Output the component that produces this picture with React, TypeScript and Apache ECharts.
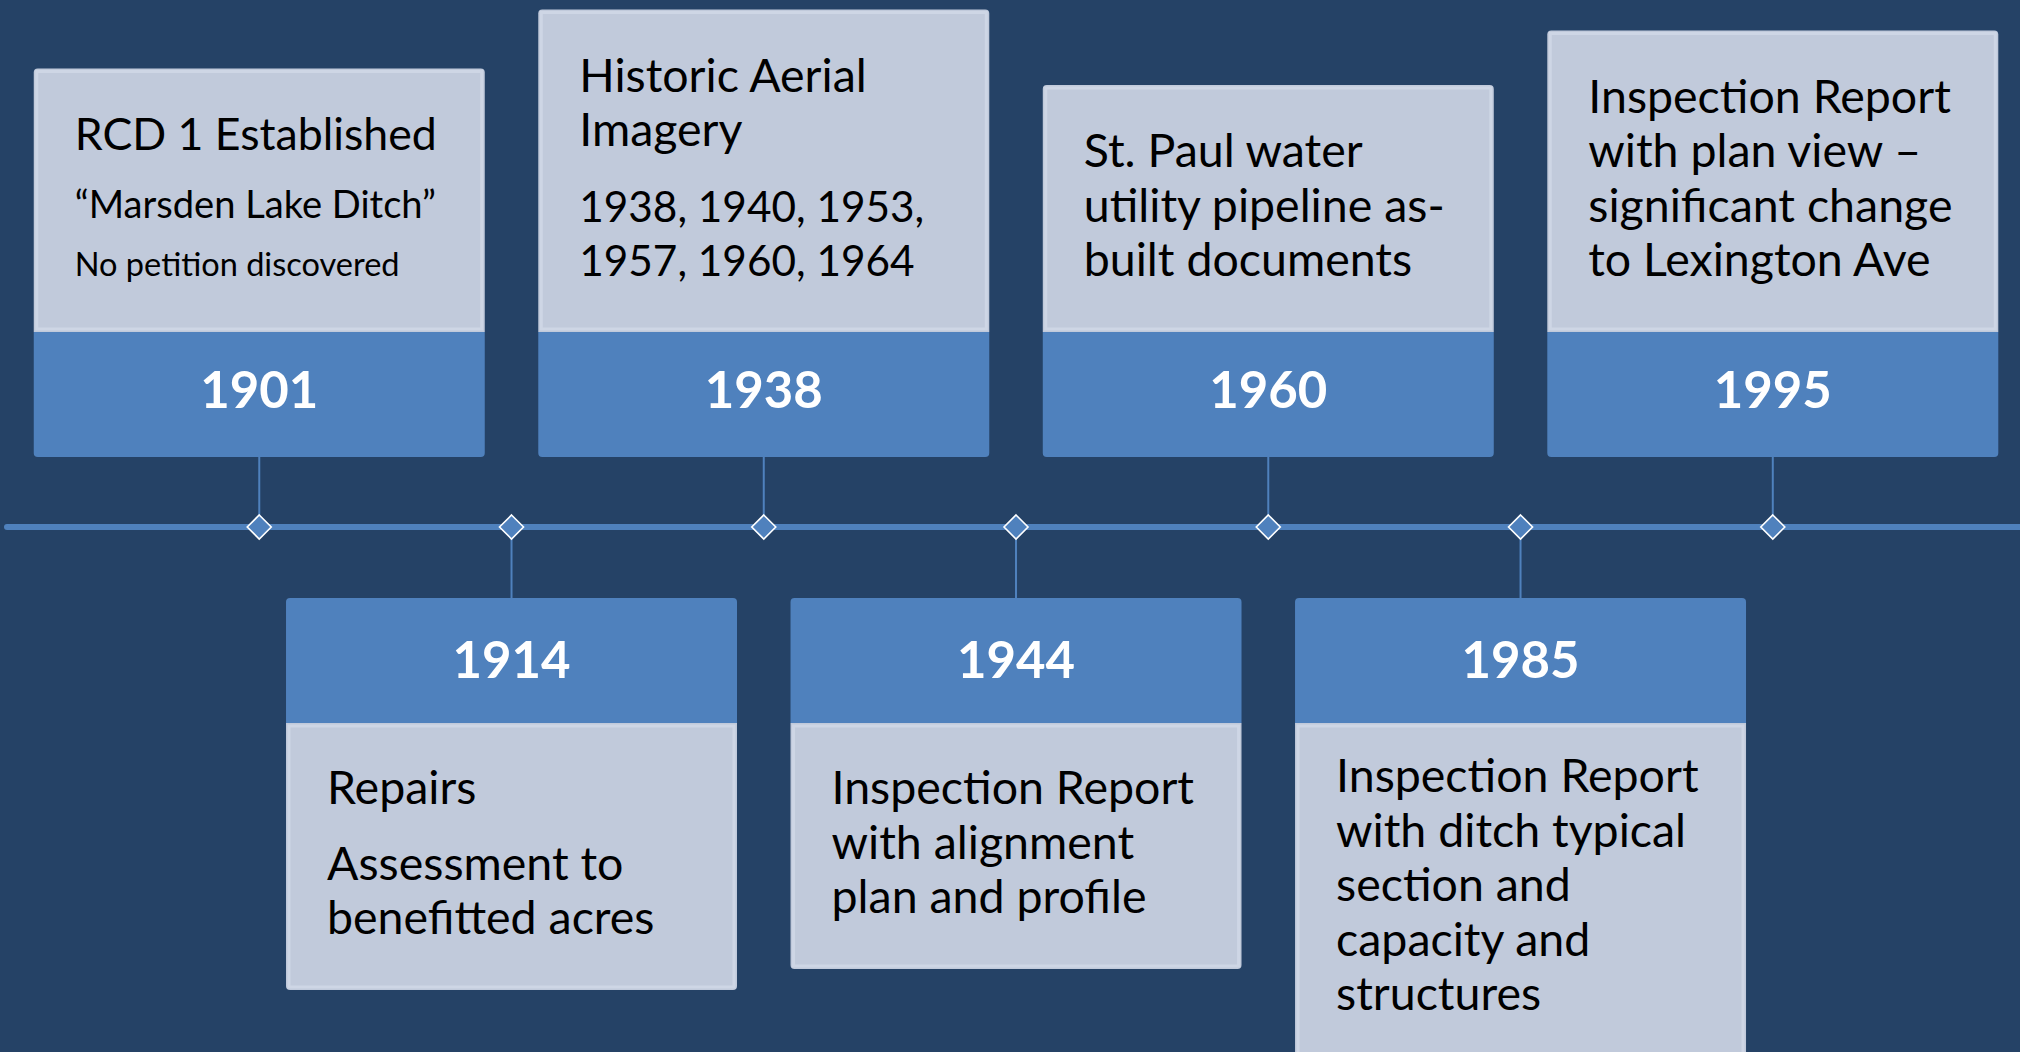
import React, { useEffect, useRef } from 'react';
import * as echarts from 'echarts';

// ---------------- data ----------------
const years = ['1901', '1914', '1938', '1944', '1960', '1985', '1995'];
const slots = [0, 1, 2, 3, 4, 5, 6];
const sides = ['above', 'below', 'above', 'below', 'above', 'below', 'above'];
const notes: string[][][] = [
  [['RCD 1 Established'], ['“Marsden Lake Ditch”'], ['No petition discovered']],
  [['Repairs'], ['Assessment to', 'benefitted acres']],
  [['Historic Aerial', 'Imagery'], ['1938, 1940, 1953,', '1957, 1960, 1964']],
  [['Inspection Report', 'with alignment', 'plan and profile']],
  [['St. Paul water', 'utility pipeline as-', 'built documents']],
  [['Inspection Report', 'with ditch typical', 'section and', 'capacity and', 'structures']],
  [['Inspection Report', 'with plan view –', 'significant change', 'to Lexington Ave']],
];

// ---------------- layout & style ----------------
const W = 2020;
const H = 1052;
const FONT = 'Lato';
const BG = '#254266';
const BLUE = '#4f81bd';
const LIGHT = '#c1cadb';
const RIM = '#ced6e5';
const BOX_W = 451;
const HEAD_H = 125;
const GAP_UP = 70;
const GAP_DOWN = 71;
const LINE = 54.5;
const PARA = 21;
const PAD_TOP = 82;
const PAD_BOTTOM = 56;
const PAD_TOP_BELOW = [81, 81, 81, 81, 81, 69, 81];
const LINE_SCALES: number[][] = [[1, 0.84, 0.69], [1, 1], [1, 1], [1], [1], [1], [1]];
const FONT_SCALES: number[][] = [[0.96, 0.82, 0.7], [1, 1], [1, 0.91], [1], [1], [1], [1]];
const TEXT_INSET = 41;
const CENTRAL = 0.387;

function inkWidth(text: string, font: string, fallback: number) {
  try {
    const ctx = document.createElement('canvas').getContext('2d');
    if (!ctx) return fallback;
    ctx.font = font;
    const m = ctx.measureText(text);
    const w = (m.actualBoundingBoxLeft || 0) + (m.actualBoundingBoxRight || 0);
    return w > 0 ? w : m.width || fallback;
  } catch (e) {
    return fallback;
  }
}

export default function App() {
  const ref = useRef<HTMLDivElement>(null);

  useEffect(() => {
    document.body.style.margin = '0';
    document.body.style.background = BG;
    if (!ref.current) return;

    const mainSize = (100 * 358) / inkWidth('Inspection Report', `100px ${FONT}`, 770);
    const yearSize = (100 * 114) / inkWidth('1914', `bold 100px ${FONT}`, 220);

    const chart = echarts.init(ref.current, undefined, { renderer: 'svg' });

    const renderItem = (params: any, api: any) => {
      const idx = params.dataIndex;
      const pt = api.coord([api.value(0), api.value(1)]);
      const cx = pt[0];
      const cy = pt[1];
      const up = sides[idx] === 'above';
      const left = cx - BOX_W / 2;
      const paras = notes[idx];
      const lScales = LINE_SCALES[idx];
      const fScales = FONT_SCALES[idx];

      const lines: { t: string; f: number; b: number }[] = [];
      let b = 0;
      let first = true;
      paras.forEach((p, pi) => {
        const s = lScales[pi] ?? 1;
        const f = fScales[pi] ?? 1;
        p.forEach((t, li) => {
          if (!first) b += LINE * s + (li === 0 ? PARA : 0);
          first = false;
          lines.push({ t, f, b });
        });
      });
      const blockH = b;

      let headTop: number, lightTop: number, lightBottom: number, firstBase: number;
      if (up) {
        headTop = cy - GAP_UP - HEAD_H;
        lightBottom = headTop;
        const lastBase = lightBottom - PAD_BOTTOM;
        firstBase = lastBase - blockH;
        lightTop = firstBase - PAD_TOP;
      } else {
        headTop = cy + GAP_DOWN;
        lightTop = headTop + HEAD_H;
        firstBase = lightTop + PAD_TOP_BELOW[idx];
        lightBottom = firstBase + blockH + PAD_BOTTOM;
      }
      const headBottom = headTop + HEAD_H;
      const yearCenter = headTop + HEAD_H / 2 - (up ? 4 : 0);

      const children: any[] = [
        {
          type: 'line',
          shape: up
            ? { x1: cx, y1: headBottom, x2: cx, y2: cy }
            : { x1: cx, y1: cy, x2: cx, y2: headTop },
          style: { stroke: BLUE, lineWidth: 2 },
        },
        {
          type: 'rect',
          shape: { x: left, y: lightTop, width: BOX_W, height: lightBottom - lightTop, r: up ? [4, 4, 0, 0] : [0, 0, 4, 4] },
          style: { fill: LIGHT },
        },
        {
          type: 'rect',
          shape: { x: left + 3, y: lightTop + 3, width: BOX_W - 6, height: lightBottom - lightTop - 6 },
          style: { fill: 'none', stroke: RIM, lineWidth: 3 },
        },
        {
          type: 'rect',
          shape: { x: left, y: headTop, width: BOX_W, height: HEAD_H, r: up ? [0, 0, 4, 4] : [4, 4, 0, 0] },
          style: { fill: BLUE },
        },
        {
          type: 'text',
          style: {
            text: years[idx],
            x: cx,
            y: yearCenter - 0.03 * yearSize,
            fill: '#ffffff',
            fontFamily: FONT,
            fontWeight: 'bold',
            fontSize: yearSize,
            align: 'center',
            verticalAlign: 'middle',
          },
        },
      ];
      lines.forEach((ln) => {
        const fs = mainSize * ln.f;
        children.push({
          type: 'text',
          style: {
            text: ln.t,
            x: left + TEXT_INSET,
            y: firstBase + ln.b - CENTRAL * fs,
            fill: '#000000',
            fontFamily: FONT,
            fontSize: fs,
            align: 'left',
            verticalAlign: 'middle',
          },
        });
      });
      return { type: 'group', children };
    };

    chart.setOption({
      animation: false,
      backgroundColor: BG,
      grid: { left: 7, right: 0, top: 0, height: 527 },
      xAxis: {
        type: 'value',
        min: -1,
        max: 6.98,
        axisLine: { show: true, onZero: false, lineStyle: { color: BLUE, width: 6 } },
        axisTick: { show: false },
        axisLabel: { show: false },
        splitLine: { show: false },
      },
      yAxis: { type: 'value', min: 0, max: 1, show: false },
      series: [
        {
          type: 'custom',
          clip: false,
          z: 2,
          data: slots.map((s) => [s, 0]),
          renderItem,
        },
        {
          type: 'scatter',
          z: 5,
          data: slots.map((s) => [s, 0]),
          symbol: 'diamond',
          symbolSize: 24,
          itemStyle: { color: BLUE, borderColor: '#ffffff', borderWidth: 1.6, opacity: 1 },
          emphasis: { disabled: true },
        },
      ],
    });

    return () => chart.dispose();
  }, []);

  return <div ref={ref} style={{ width: W, height: H }} />;
}
